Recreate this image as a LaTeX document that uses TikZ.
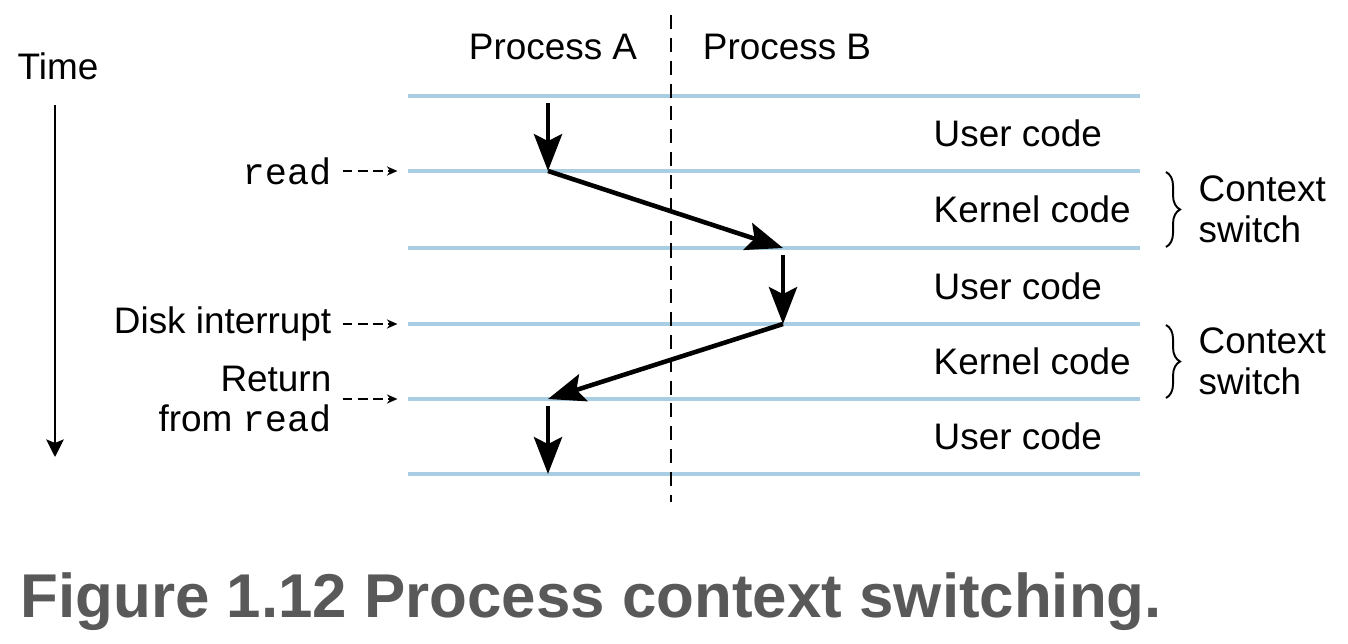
\documentclass[tikz,border=0pt]{standalone}
\usepackage{fontspec}
\setmainfont{Liberation Sans}
\setmonofont{Liberation Mono}
\usetikzlibrary{arrows.meta,decorations.pathreplacing,positioning}
\definecolor{lineblue}{HTML}{A9CDE3}
\definecolor{capgray}{HTML}{595959}
\tikzset{
  lbl/.style={font=\fontsize{10.5}{11.5}\selectfont, inner sep=0pt},
  level/.style={lineblue, line width=1.2pt},
  flow/.style={line width=1.3pt, -{Stealth[length=10.5pt,width=8pt,inset=2pt]}},
  hint/.style={line width=0.5pt, dash pattern=on 2.8pt off 1.5pt, -{Stealth[length=3pt,width=2.6pt]}},
  divider/.style={line width=0.65pt, dash pattern=on 4pt off 2.5pt},
  swbrace/.style={decorate, decoration={brace, amplitude=4pt}, line width=0.55pt},
}
\begin{document}
\begin{tikzpicture}
    \useasboundingbox (0,0) rectangle (13.48,-6.44);

    % time levels
    \foreach \y [count=\i from 0] in {0.96,1.71,2.48,3.24,3.99,4.74} {
        \draw[level] (4.08,-\y) coordinate (L\i) -- (11.40,-\y) coordinate (R\i);
        \coordinate (A\i) at (5.48,-\y);
        \coordinate (B\i) at (7.83,-\y);
    }

    \draw[divider] (6.71,-0.15) -- (6.71,-5.02);

    \node[lbl] (procA) at (5.53,-0.47) {Process A};
    \node[lbl] (procB) at (7.87,-0.47) {Process B};

    % time axis
    \node[lbl] (time) at (0.58,-0.66) {Time};
    \coordinate (tTop) at (0.55,-1.05);
    \coordinate (tEnd) at (0.55,-4.57);
    \draw[line width=0.6pt, -{Stealth[length=5pt,width=5pt,inset=1pt]}] (tTop) -- (tEnd);

    % control flow
    \draw[flow] ([yshift=-2pt]A0) -- (A1);
    \draw[flow] (A1) -- (B2);
    \draw[flow] ([yshift=-2pt]B2) -- (B3);
    \draw[flow] (B3) -- (A4);
    \draw[flow] ([yshift=-2pt]A4) -- (A5);

    % events
    \node[lbl, anchor=east] (lread) at (3.32,-1.71) {\texttt{read}};
    \node[lbl, anchor=base east] (ldisk) at (3.32,-3.34) {Disk interrupt};
    \node[lbl, anchor=east, align=right] (lret) at (3.32,-3.99) {Return\\from \texttt{read}};
    \draw[hint] ([xshift=3pt]lread.east |- L1) -- ([xshift=-3pt]L1);
    \draw[hint] ([xshift=3pt]ldisk.east |- L3) -- ([xshift=-3pt]L3);
    \draw[hint] ([xshift=3pt]lret.east |- L4) -- ([xshift=-3pt]L4);

    % code kinds
    \node[lbl, anchor=west] (u1) at (9.33,-1.335) {User code};
    \node[lbl, anchor=west] (k1) at (9.33,-2.095) {Kernel code};
    \node[lbl, anchor=west] (u2) at (9.33,-2.86) {User code};
    \node[lbl, anchor=west] (k2) at (9.33,-3.615) {Kernel code};
    \node[lbl, anchor=west] (u3) at (9.33,-4.365) {User code};

    % context switches
    \draw[swbrace] (11.66,-1.72) -- (11.66,-2.47) coordinate[midway] (br1);
    \draw[swbrace] (11.66,-3.25) -- (11.66,-3.98) coordinate[midway] (br2);
    \node[lbl, anchor=west, align=left] (cs1) at ([xshift=0.32cm]br1) {Context\\switch};
    \node[lbl, anchor=west, align=left] (cs2) at ([xshift=0.32cm]br2) {Context\\switch};

    \node[anchor=base west, inner sep=0pt, text=capgray,
          font=\fontsize{17.6}{20}\selectfont\bfseries] (cap) at (0.20,-6.17)
          {Figure 1.12 Process context switching.};
\end{tikzpicture}
\end{document}
